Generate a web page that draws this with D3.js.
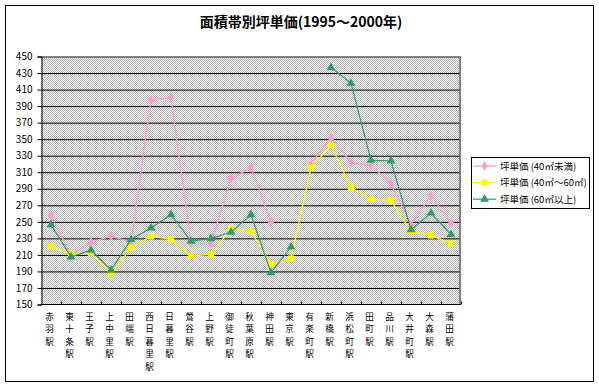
<!DOCTYPE html>
<html>
<head>
<meta charset="utf-8">
<script src="https://cdn.jsdelivr.net/npm/d3@7"></script>
<style>
body { margin: 0; background: #fff; }
svg text { font-family: "Noto Sans CJK JP", "DejaVu Sans", sans-serif; fill: #000; }
</style>
</head>
<body>
<svg id="chart" width="599" height="387"></svg>
<script>
const categories = ["赤羽駅", "東十条駅", "王子駅", "上中里駅", "田端駅", "西日暮里駅", "日暮里駅", "鶯谷駅", "上野駅", "御徒町駅", "秋葉原駅",
    "神田駅", "東京駅", "有楽町駅", "新橋駅", "浜松町駅", "田町駅", "品川駅", "大井町駅", "大森駅", "蒲田駅"];
// 坪単価 by floor area band (null = no data)
const under40 = [257, 209, 225, 232, 225, 397, 400, 224, 223, 302, 315, 249, null, 319, 352, 321, 318, 295, 246, 281, 248];
const from40to60 = [220, 209, 212, 186, 218, 232, 228, 208, 210, 241, 238, 198, 205, 315, 342, 291, 277, 275, 238, 233, 223];
const over60 = [246, 207, 215, 191, 228, 242, 258, 226, 229, 237, 258, 188, 219, null, 436, 417, 324, 323, 240, 260, 234];
const yTicks = [150, 170, 190, 210, 230, 250, 270, 290, 310, 330, 350, 370, 390, 410, 430, 450];
const seriesNames = ["坪単価 (40㎡未満)", "坪単価 (40㎡～60㎡)", "坪単価 (60㎡以上)"];

const plot = {left: 41, right: 461, top: 56, bottom: 304};

const series = [
    {name: seriesNames[0], values: under40, color: "#ff99cc", symbol: d3.symbolDiamond, size: 30},
    {name: seriesNames[1], values: from40to60, color: "#ffff00", symbol: d3.symbolSquare, size: 40},
    {name: seriesNames[2], values: over60, color: "#339966", symbol: d3.symbolTriangle, size: 34}
];

const svg = d3.select("#chart");

// checkered plot background
const pattern = svg.append("defs").append("pattern")
    .attr("id", "checker")
    .attr("width", 2).attr("height", 2)
    .attr("patternUnits", "userSpaceOnUse");
pattern.append("rect").attr("width", 2).attr("height", 2).attr("fill", "#fff");
pattern.append("rect").attr("width", 1).attr("height", 1).attr("fill", "#b2b2b2");
pattern.append("rect").attr("x", 1).attr("y", 1).attr("width", 1).attr("height", 1).attr("fill", "#b2b2b2");

svg.append("rect")
    .attr("x", 5.5).attr("y", 5.5)
    .attr("width", 588).attr("height", 376)
    .attr("fill", "#fff")
    .attr("stroke", "#000");

svg.append("text")
    .attr("x", 301).attr("y", 27)
    .attr("text-anchor", "middle")
    .attr("font-size", 14)
    .attr("font-weight", "bold")
    .text("面積帯別坪単価(1995～2000年)");

const x = d3.scaleBand()
    .domain(categories)
    .range([plot.left, plot.right]);

const y = d3.scaleLinear()
    .domain([150, 450])
    .range([plot.bottom, plot.top]);

svg.append("rect")
    .attr("x", plot.left).attr("y", plot.top)
    .attr("width", plot.right - plot.left)
    .attr("height", plot.bottom - plot.top)
    .attr("fill", "url(#checker)");

// gray frame on top and right
svg.append("path")
    .attr("d", `M${plot.left},${plot.top + 1}H${plot.right - 1}V${plot.bottom}`)
    .attr("fill", "none")
    .attr("stroke", "#808080")
    .attr("stroke-width", 2);

// gridlines + y axis
const yAxis = svg.append("g")
    .attr("transform", `translate(${plot.left + 0.5},0.5)`)
    .call(d3.axisLeft(y).tickValues(yTicks).tickSize(4).tickPadding(5).tickFormat(d3.format("d")));
yAxis.select(".domain").attr("stroke", "#000");
yAxis.selectAll(".tick text").attr("font-size", 10).attr("font-family", "DejaVu Sans");
yAxis.selectAll(".tick")
    .filter(d => d !== 150 && d !== 450)
    .append("line")
    .attr("x2", plot.right - plot.left - 2)
    .attr("stroke", "#000");

// x axis with inward ticks at category boundaries
const xAxis = svg.append("g")
    .attr("transform", `translate(0,${plot.bottom + 0.5})`);
xAxis.append("line")
    .attr("x1", plot.left).attr("x2", plot.right)
    .attr("stroke", "#000");
xAxis.selectAll("line.tick")
    .data(categories)
    .join("line")
    .attr("class", "tick")
    .attr("x1", d => Math.round(x(d) + x.bandwidth()) + 0.5)
    .attr("x2", d => Math.round(x(d) + x.bandwidth()) + 0.5)
    .attr("y1", -3).attr("y2", 0)
    .attr("stroke", "#000");

// vertical station labels, one character per text
xAxis.selectAll("g.label")
    .data(categories)
    .join("g")
    .attr("class", "label")
    .attr("transform", d => `translate(${x(d) + x.bandwidth() / 2 - 1.5},0)`)
    .each(function(d) {
        d3.select(this).selectAll("text")
            .data(Array.from(d))
            .join("text")
            .attr("font-size", 8.6)
            .attr("text-anchor", "middle")
            .attr("y", (c, i) => 15 + i * 12.5)
            .text(c => c);
    });

// series lines and markers
const line = d3.line()
    .defined(v => v !== null)
    .x((v, i) => x(categories[i]) + x.bandwidth() / 2)
    .y(v => y(v));

series.forEach(s => {
    const g = svg.append("g");
    g.append("path")
        .datum(s.values)
        .attr("d", line)
        .attr("fill", "none")
        .attr("stroke", s.color)
        .attr("stroke-width", 1.2);
    g.selectAll("path.marker")
        .data(s.values.map((v, i) => ({v, i})).filter(d => d.v !== null))
        .join("path")
        .attr("class", "marker")
        .attr("d", d3.symbol(s.symbol, s.size))
        .attr("transform", d => `translate(${x(categories[d.i]) + x.bandwidth() / 2},${y(d.v)})`)
        .attr("fill", s.color);
});

// legend
const legend = svg.append("g");
legend.append("rect")
    .attr("x", 471.5).attr("y", 157.5)
    .attr("width", 118).attr("height", 51)
    .attr("fill", "#fff")
    .attr("stroke", "#000");
const item = legend.selectAll("g.item")
    .data(series)
    .join("g")
    .attr("class", "item")
    .attr("transform", (d, i) => `translate(0,${166 + i * 16.6})`);
item.append("line")
    .attr("x1", 473).attr("x2", 496)
    .attr("stroke", d => d.color)
    .attr("stroke-width", 1.2);
item.append("path")
    .attr("d", d => d3.symbol(d.symbol, d.size)())
    .attr("transform", "translate(484.5,0)")
    .attr("fill", d => d.color);
item.append("text")
    .attr("x", 500).attr("y", 3.5)
    .attr("font-size", 9.5)
    .text(d => d.name);
</script>
</body>
</html>
